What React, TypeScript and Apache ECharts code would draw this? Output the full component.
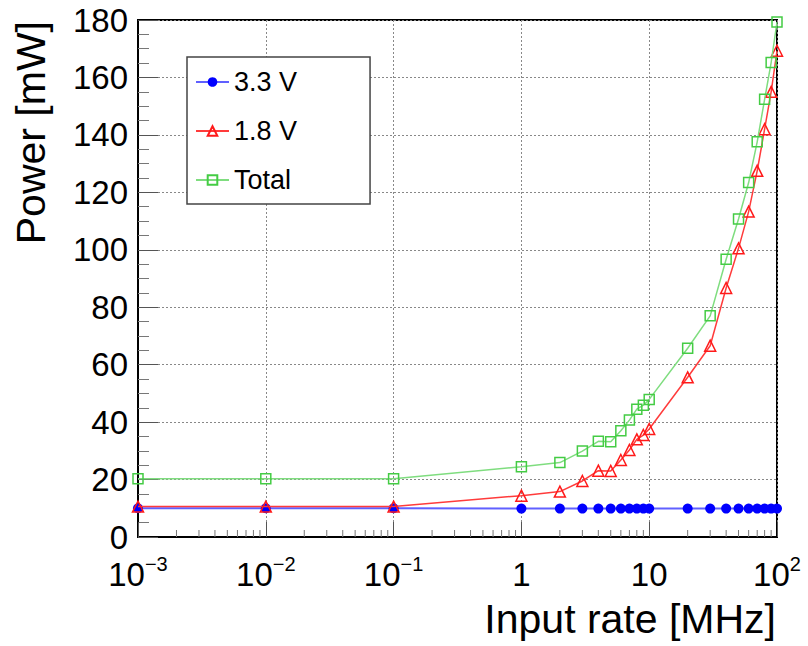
import React, { useEffect, useRef } from "react";
import * as echarts from "echarts";

const inputRates = [0.001, 0.01, 0.1, 1, 2, 3, 4, 5, 6, 7, 8, 9, 10, 20, 30, 40, 50, 60, 70, 80, 90, 100];
const power33 = [10.0, 10.0, 10.0, 9.9, 9.9, 9.9, 9.9, 9.9, 9.9, 9.9, 9.9, 9.9, 9.9, 9.9, 9.9, 9.9, 9.9, 9.9, 9.9, 9.9, 9.9, 9.9];
const power18 = [10.6, 10.6, 10.6, 14.4, 15.8, 19.5, 23.1, 23.0, 26.8, 30.3, 34.0, 35.5, 37.6, 55.6, 66.6, 86.7, 100.5, 113.3, 127.5, 142.0, 155.0, 169.3];
const powerTotal = [20.3, 20.3, 20.3, 24.5, 25.9, 29.9, 33.3, 33.2, 37.0, 40.7, 44.5, 45.9, 47.9, 65.7, 77.0, 96.7, 110.7, 123.4, 137.6, 152.4, 165.2, 179.3];
const seriesNames = ["3.3 V", "1.8 V", "Total"];
const decades = [0.001, 0.01, 0.1, 1, 10];
const minorMultipliers = [2, 3, 4, 5, 6, 7, 8, 9];

const FONT = "'Liberation Sans', Arial, Helvetica, sans-serif";

export default function App() {
  const ref = useRef<HTMLDivElement>(null);
  useEffect(() => {
    if (!ref.current) return;
    const chart = echarts.init(ref.current, undefined, { renderer: "svg" });
    const pairs = (ys: number[]) => inputRates.map((x, i) => [x, ys[i]]);
    const minorTicks: number[][] = [];
    decades.forEach((d) => minorMultipliers.forEach((m) => minorTicks.push([d * m, 0])));

    const option: any = {
      animation: false,
      backgroundColor: "#fff",
      textStyle: { fontFamily: FONT },
      grid: {
        left: 138,
        right: 31,
        top: 20,
        bottom: 109,
        show: true,
        borderColor: "#000",
        borderWidth: 2,
        backgroundColor: "transparent",
      },
      xAxis: {
        type: "log",
        logBase: 10,
        min: 0.001,
        max: 100,
        splitNumber: 5,
        axisLine: { show: true, lineStyle: { color: "#000", width: 2 } },
        axisTick: { show: true, inside: true, length: 15, lineStyle: { color: "#555", width: 1 } },
        minorTick: { show: false },
        splitLine: { show: true, lineStyle: { color: "#888", width: 1, type: [2, 2] } },
        axisLabel: {
          margin: 17,
          color: "#000",
          formatter: (v: number) => {
            const e = Math.round(Math.log10(v));
            if (e === 0) return "{b|1}";
            if (e === 1) return "{b|10}";
            return `{b|10}{s|${e < 0 ? "\u2212" : ""}${Math.abs(e)}}`;
          },
          rich: {
            b: { fontSize: 33, lineHeight: 40, fontFamily: FONT, color: "#000", verticalAlign: "middle" },
            s: { fontSize: 20, lineHeight: 24, fontFamily: FONT, color: "#000", verticalAlign: "top" },
          },
        },
      },
      yAxis: {
        type: "value",
        min: 0,
        max: 180,
        interval: 20,
        axisLine: { show: true, lineStyle: { color: "#000", width: 2 } },
        axisTick: { show: true, inside: true, length: 20, lineStyle: { color: "#555", width: 1 } },
        minorTick: { show: true, splitNumber: 4, length: 11, lineStyle: { color: "#777", width: 1 } },
        splitLine: { show: true, lineStyle: { color: "#888", width: 1, type: [2, 2] } },
        axisLabel: { fontSize: 33, color: "#000", margin: 10, fontFamily: FONT },
      },
      legend: {
        data: seriesNames,
        orient: "vertical",
        left: 187,
        top: 57,
        padding: [11, 73, 10, 8],
        itemGap: 21,
        itemWidth: 33,
        itemHeight: 12,
        backgroundColor: "#fff",
        borderColor: "#444",
        borderWidth: 1.5,
        borderRadius: 0,
        textStyle: { fontSize: 27, lineHeight: 28, color: "#000", fontFamily: FONT },
      },
      graphic: [
        {
          type: "text",
          x: 776,
          y: 619,
          style: {
            text: "Input rate [MHz]",
            font: `41px ${FONT}`,
            fill: "#000",
            textAlign: "right",
            textVerticalAlign: "middle",
          },
        },
        {
          type: "text",
          x: 31,
          y: 21,
          rotation: Math.PI / 2,
          style: {
            text: "Power [mW]",
            font: `41px ${FONT}`,
            fill: "#000",
            textAlign: "right",
            textVerticalAlign: "middle",
          },
        },
      ],
      series: [
        {
          type: "custom",
          name: "minorTicksX",
          silent: true,
          clip: false,
          z: 1,
          data: minorTicks,
          encode: { x: 0, y: 1 },
          renderItem: (params: any, api: any) => {
            const p = api.coord([api.value(0), 0]);
            return {
              type: "line",
              shape: { x1: p[0], y1: p[1], x2: p[0], y2: p[1] - 7 },
              style: { stroke: "#777", lineWidth: 1 },
            };
          },
        },
        {
          name: seriesNames[0],
          type: "line",
          data: pairs(power33),
          symbol: "circle",
          symbolSize: 10,
          itemStyle: { color: "#0000ff" },
          lineStyle: { color: "#6060ff", width: 2 },
          z: 3,
        },
        {
          name: seriesNames[1],
          type: "line",
          data: pairs(power18),
          symbol: "triangle",
          symbolSize: 11,
          itemStyle: { color: "rgba(255,255,255,0)", borderColor: "#ff1a1a", borderWidth: 1.5 },
          lineStyle: { color: "#ff3b3b", width: 1.5 },
          z: 4,
        },
        {
          name: seriesNames[2],
          type: "line",
          data: pairs(powerTotal),
          symbol: "rect",
          symbolSize: 10,
          itemStyle: { color: "rgba(255,255,255,0)", borderColor: "#44cc44", borderWidth: 1.5 },
          lineStyle: { color: "#7fdd7f", width: 1.5 },
          z: 5,
        },
      ],
    };
    chart.setOption(option);
    return () => chart.dispose();
  }, []);
  return (
    <div
      ref={ref}
      style={{ position: "fixed", left: 0, top: 0, width: 808, height: 646, background: "#fff" }}
    />
  );
}
